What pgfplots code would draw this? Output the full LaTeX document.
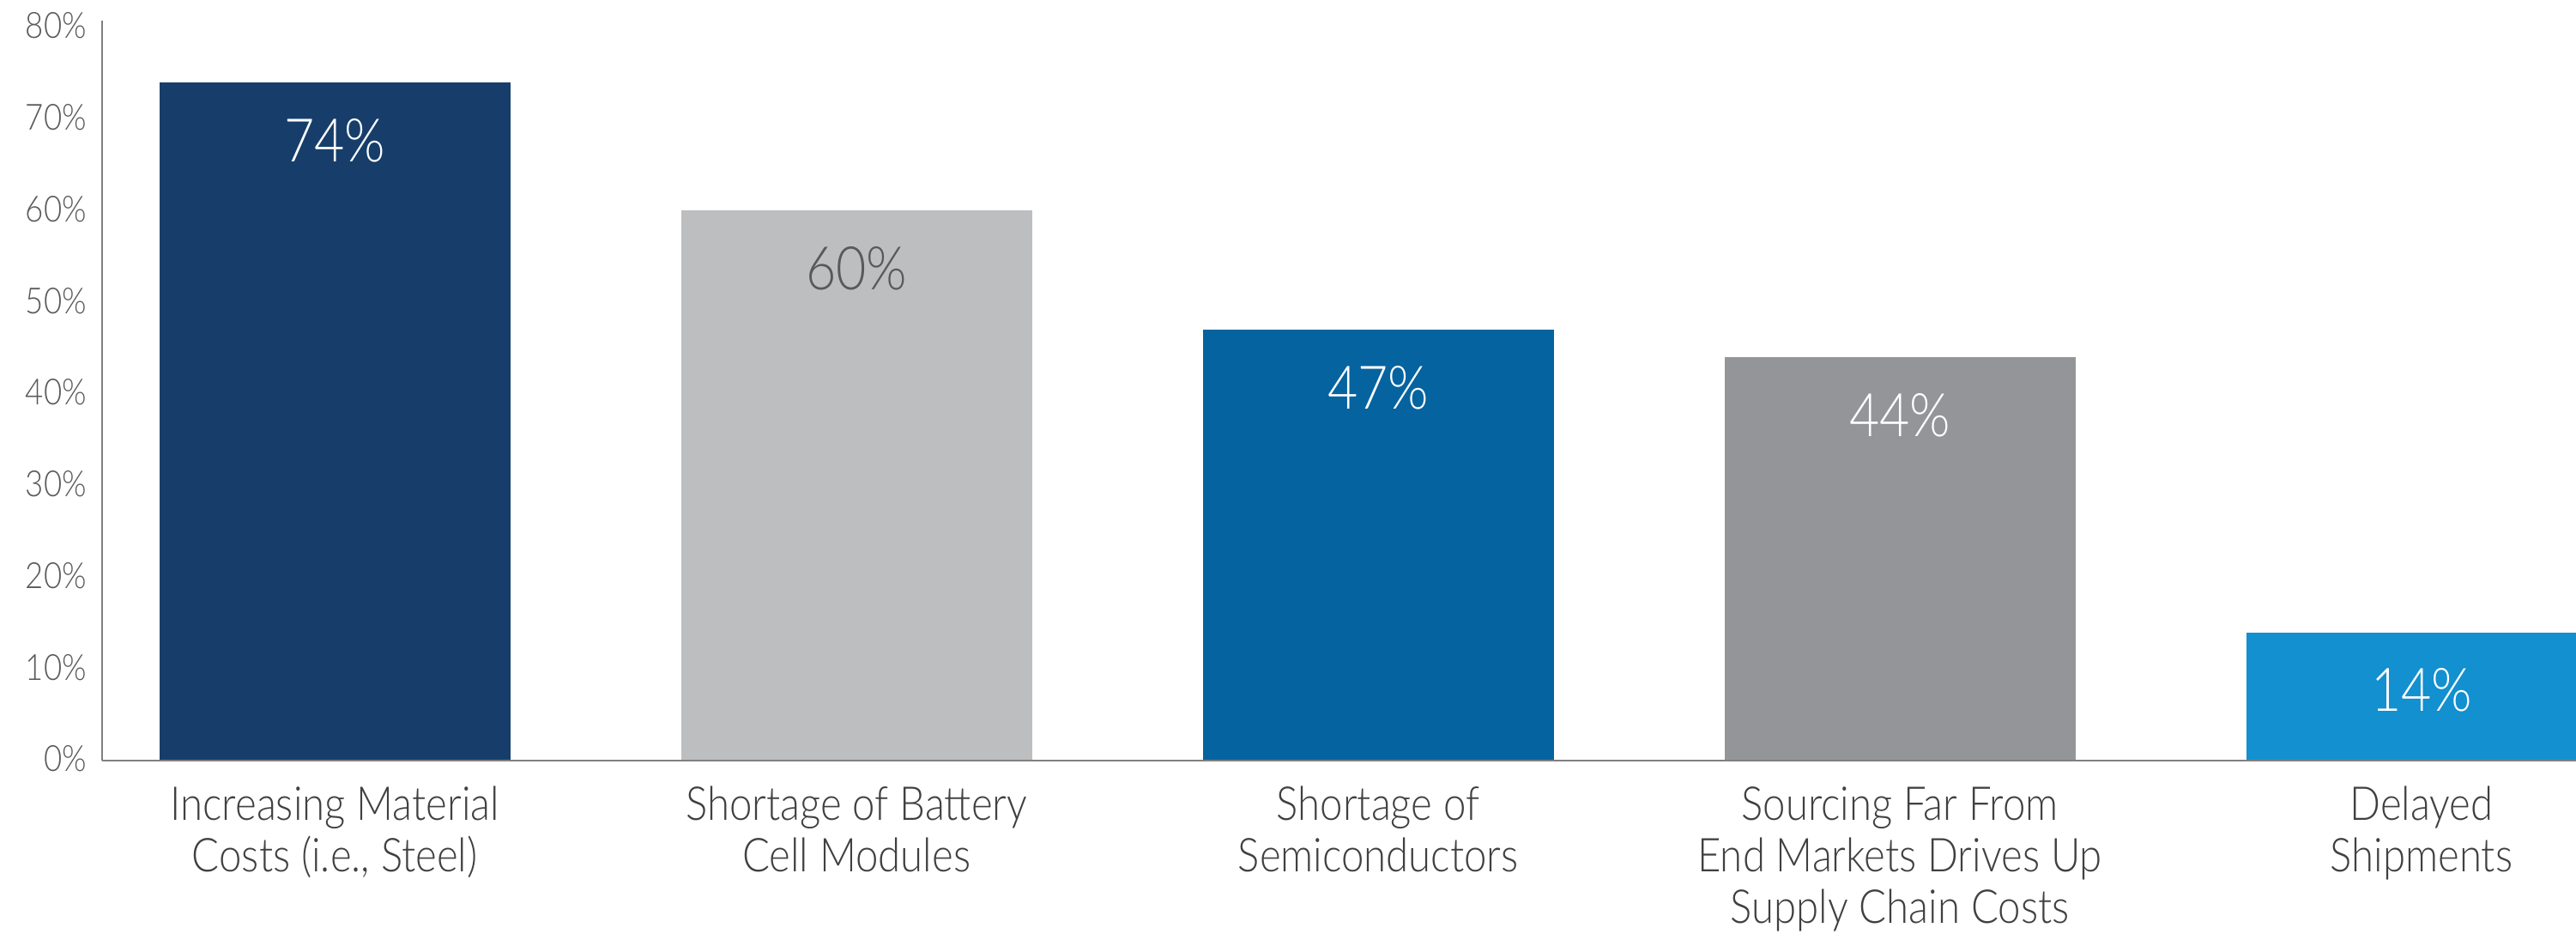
\documentclass[border=0pt]{standalone}
\usepackage{pgfplots}
\pgfplotsset{compat=1.18}
\usepackage{fontspec}
\setmainfont{Lato Light}[FakeStretch=0.87]

\definecolor{navy}{HTML}{173E6A}
\definecolor{lightgrey}{HTML}{BDBEC0}
\definecolor{midblue}{HTML}{0563A0}
\definecolor{midgrey}{HTML}{939598}
\definecolor{skyblue}{HTML}{1290CF}
\definecolor{ticktext}{HTML}{595959}
\definecolor{cattext}{HTML}{404040}
\definecolor{axisgrey}{HTML}{808080}

\begin{document}
\begin{tikzpicture}
\path[use as bounding box] (0,0) rectangle (750.5pt,272pt);
\begin{axis}[
  at={(29.75pt,50.5pt)}, anchor=south west,
  scale only axis,
  width=720.75pt, height=215.5pt,
  xmin=-0.446, xmax=4.296,
  ymin=0, ymax=80.75,
  axis lines=left,
  axis line style={-, draw=axisgrey, line width=0.5pt},
  major tick length=0pt,
  /pgf/number format/assume math mode=true,
  ytick={0,10,...,80},
  yticklabels={0\%,10\%,20\%,30\%,40\%,50\%,60\%,70\%,80\%},
  yticklabel style={font=\fontsize{10.5}{12}\selectfont, text=ticktext, xshift=-1pt, yshift=0.5pt},
  xtick={0,1,2,3,4},
  xticklabels={{Increasing Material\\Costs (i.e., Steel)},
               {Shortage of Battery\\Cell Modules},
               {Shortage of\\Semiconductors},
               {Sourcing Far From\\End Markets Drives Up\\Supply Chain Costs},
               {Delayed\\Shipments}},
  xticklabel style={font=\fontsize{13.6}{15}\selectfont, text=cattext, align=center, anchor=north, yshift=-4pt},
  ybar, bar width=102.25pt,
  axis on top,
  every node near coord/.append style={font=\fontsize{17.5}{20}\selectfont, anchor=north, yshift=-7pt},
  nodes near coords={\pgfmathprintnumber{\pgfplotspointmeta}\%},
]
\addplot[fill=navy, draw=none, bar shift=0pt, nodes near coords style={text=white}] coordinates {(0,74)};
\addplot[fill=lightgrey, draw=none, bar shift=0pt, nodes near coords style={text=ticktext}] coordinates {(1,60)};
\addplot[fill=midblue, draw=none, bar shift=0pt, nodes near coords style={text=white}] coordinates {(2,47)};
\addplot[fill=midgrey, draw=none, bar shift=0pt, nodes near coords style={text=white}] coordinates {(3,44)};
\addplot[fill=skyblue, draw=none, bar shift=0pt, nodes near coords style={text=white}] coordinates {(4,14)};
\end{axis}
\end{tikzpicture}
\end{document}
